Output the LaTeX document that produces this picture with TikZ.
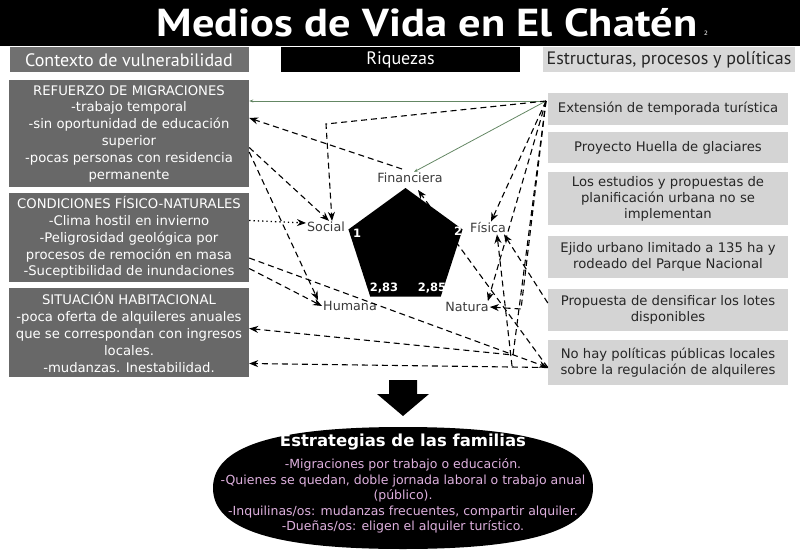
\documentclass[tikz,border=0pt]{standalone}
\usepackage{fontspec}
\setmainfont{DejaVu Sans}
\newfontfamily\hdrfont{PT Sans}
\usetikzlibrary{arrows.meta,shapes.geometric}
\definecolor{boxgray}{RGB}{104,104,104}
\definecolor{hdrgray}{RGB}{112,112,112}
\definecolor{lightbox}{RGB}{212,212,212}
\definecolor{hdrlight}{RGB}{216,216,216}
\definecolor{darktext}{RGB}{38,38,38}
\definecolor{labeltext}{RGB}{58,58,58}
\definecolor{pinktext}{RGB}{222,176,222}
\definecolor{greenline}{RGB}{100,135,100}
\begin{document}
\begin{tikzpicture}[x=1pt,y=-1pt,
  hdr/.style={inner sep=0pt, minimum height=25pt, font=\hdrfont\fontsize{18}{20}\selectfont},
  lbox/.style={fill=boxgray, text=white, minimum width=240pt, align=center, inner sep=0pt, font=\fontsize{13.2}{16.8}\selectfont},
  rbox/.style={fill=lightbox, text=darktext, minimum width=240pt, align=center, inner sep=0pt, font=\fontsize{13.2}{16}\selectfont},
  caplbl/.style={text=labeltext, inner sep=1pt, font=\fontsize{12.7}{14}\selectfont},
  num/.style={text=white, inner sep=0pt, font=\bfseries\fontsize{11.5}{12}\selectfont},
  con/.style={draw=black, line width=1.1pt, dash pattern=on 6pt off 4pt, -{Stealth[length=9pt,width=7pt]}},
  dotcon/.style={draw=black, line width=1.3pt, dash pattern=on 1.3pt off 3pt, -{Stealth[length=9pt,width=7pt]}},
  grn/.style={draw=greenline, line width=0.8pt, -{Stealth[length=4pt,width=3pt]}}
]
\useasboundingbox (0,0) rectangle (800,559);

% title bar
\node[fill=black, minimum width=800pt, minimum height=46pt, inner sep=0pt] (titlebar) at (400,23) {};
\node[text=white, inner sep=0pt, font=\hdrfont\bfseries\fontsize{39}{40}\selectfont] (title) at (427,23) {\scalebox{1.14}[1]{Medios de Vida en El Chatén}};
\node[text=white, inner sep=0pt, font=\fontsize{6}{7}\selectfont] (titlenote) at (706,33) {2};

% headers
\node[hdr, fill=hdrgray, text=white, minimum width=239pt] (ctx) at (129,60) {Contexto de vulnerabilidad};
\node[hdr, fill=black, text=white, minimum width=239pt] (riq) at (400.5,60) {Riquezas};
\node[hdr, fill=hdrlight, text=darktext, minimum width=252pt] (est) at (669,60) {Estructuras, procesos y políticas};

% left boxes
\node[lbox, minimum height=107pt] (box1) at (129,133.5) {REFUERZO DE MIGRACIONES\\-trabajo temporal\\-sin oportunidad de educación\\superior\\-pocas personas con residencia\\permanente};
\node[lbox, minimum height=89pt] (box2) at (129,237.5) {CONDICIONES FÍSICO-NATURALES\\-Clima hostil en invierno\\-Peligrosidad geológica por\\procesos de remoción en masa\\-Suceptibilidad de inundaciones};
\node[lbox, minimum height=89pt] (box3) at (129,332.5) {SITUACIÓN HABITACIONAL\\-poca oferta de alquileres anuales\\que se correspondan con ingresos\\locales.\\-mudanzas. Inestabilidad.};

% right boxes
\node[rbox, minimum height=32pt] (R1) at (668,109) {Extensión de temporada turística};
\node[rbox, minimum height=31pt] (R2) at (668,147.5) {Proyecto Huella de glaciares};
\node[rbox, minimum height=53pt] (R3) at (668,198.5) {Los estudios y propuestas de\\planificación urbana no se\\implementan};
\node[rbox, minimum height=42pt] (R4) at (668,257) {Ejido urbano limitado a 135 ha y\\rodeado del Parque Nacional};
\node[rbox, minimum height=42pt] (R5) at (668,310) {Propuesta de densificar los lotes\\disponibles};
\node[rbox, minimum height=45pt] (R6) at (668,362.5) {No hay políticas públicas locales\\sobre la regulación de alquileres};

% capital labels
\node[caplbl] (fin) at (410,178) {Financiera};
\node[caplbl] (soc) at (326,227) {Social};
\node[caplbl] (fis) at (488,228) {Física};
\node[caplbl] (hum) at (350,306) {Humana};
\node[caplbl] (nat) at (467,307) {Natura};

% bend points
\coordinate (hub) at (546,101);
\coordinate (k1) at (326,124);
\coordinate (k2) at (513,355);
\coordinate (k4) at (512,366);
\coordinate (k5) at (521,309);

% connectors
\draw[grn] (hub) -- (box1.east |- hub);
\draw[grn] (hub) -- ([xshift=4pt]fin.north);
\draw[con] (hub) -- (k1) -- ([xshift=6pt]soc.north);
\draw[con] ([xshift=-8pt,yshift=9pt]fin.center) -- ([yshift=15.5pt]box1.east);
\draw[con] ([yshift=-14pt]box1.east) -- ([xshift=3pt]soc.north);
\draw[con] ([yshift=-18.5pt]box1.east) -- ([xshift=-4pt]hum.north west);
\draw[dotcon] ([yshift=17pt]box2.east) -- ([yshift=4pt]soc.west);
\draw[con] ([yshift=-31pt]box2.east) -- (hum.west);
\draw[con] ([yshift=-20.5pt]box2.east) -- ([yshift=-5pt]R6.west);
\draw[con] (hub) -- (k2) -- ([yshift=4pt]box3.east);
\draw[con] ([yshift=-5pt]R6.west) -- ([yshift=-31pt]box3.east);
\draw[con] ([yshift=-5pt]R6.west) -- ([xshift=8pt,yshift=-12pt]fin.center);
\draw[con] (hub) -- ([xshift=3pt]fis.north);
\draw[con] (hub) -- ([xshift=-2pt]nat.north east);
\draw[con] (k4) -- ([xshift=9pt]fis.south);
\draw[con] ([yshift=7pt]R5.west) -- ([xshift=16pt]fis.south);
\draw[con] (hub) -- (k5) -- (nat.east);

% pentagon
\node[regular polygon, regular polygon sides=5, minimum size=120pt, fill=black, inner sep=0pt] (pent) at (405.5,248) {};
\node[num] (n1) at (357,233) {1};
\node[num] (n2) at (458,231) {2};
\node[num] (n3) at (384,288) {2,83};
\node[num] (n4) at (432,288) {2,85};

% big arrow
\fill[black] (389,380) -- (417,380) -- (417,394) -- (429,394) -- (403,416) -- (377,394) -- (389,394) -- cycle;

% strategies oval
\fill[black] (593,488) .. controls (593,446.5) and (532.2,427) .. (403,427)
  .. controls (273.8,427) and (213,446.5) .. (213,488)
  .. controls (213,529.5) and (273.8,549) .. (403,549)
  .. controls (532.2,549) and (593,529.5) .. (593,488) -- cycle;
\node[text=white, inner sep=0pt, font=\bfseries\fontsize{16.5}{18}\selectfont] (strattitle) at (403,442) {Estrategias de las familias};
\node[text=pinktext, align=center, inner sep=0pt, font=\fontsize{12.5}{15.5}\selectfont] (stratbody) at (403,496) {-Migraciones por trabajo o educación.\\-Quienes se quedan, doble jornada laboral o trabajo anual\\(público).\\-Inquilinas/os: mudanzas frecuentes, compartir alquiler.\\-Dueñas/os: eligen el alquiler turístico.};
\end{tikzpicture}
\end{document}
